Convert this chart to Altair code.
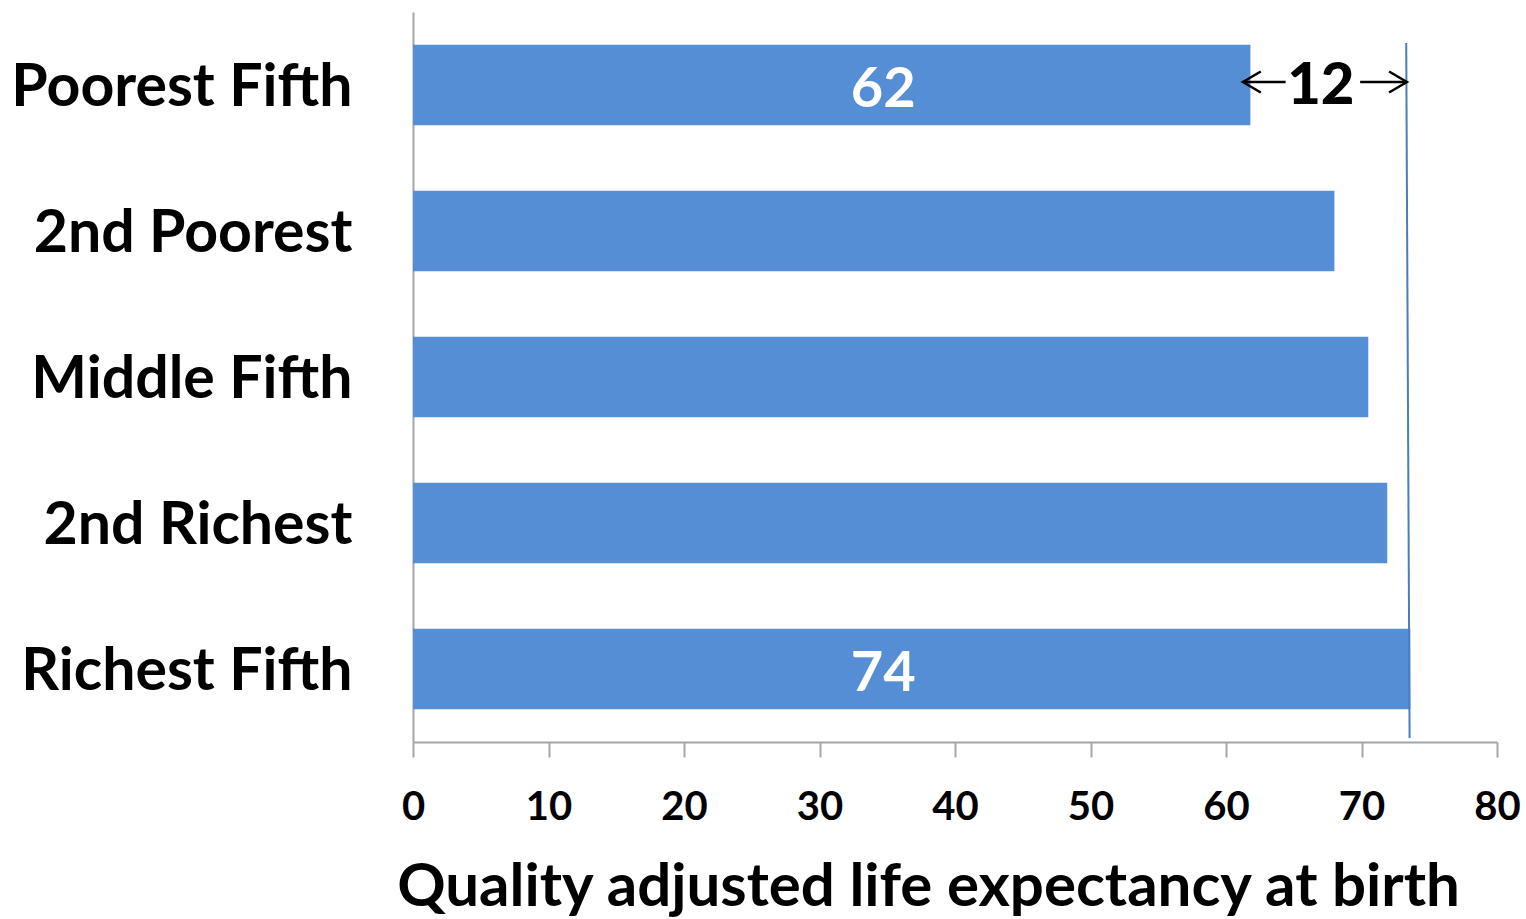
import altair as alt
import pandas as pd

# Income groups (top to bottom) and quality adjusted life expectancy at birth
groups = ["Poorest Fifth", "2nd Poorest", "Middle Fifth", "2nd Richest", "Richest Fifth"]
qale = [61.8, 68.0, 70.5, 71.9, 73.6]

# Bars that carry a value label, and where that label sits along the axis
labelled = ["Poorest Fifth", "Richest Fifth"]
label_x = 34.7

# Gap annotation between poorest and richest fifth
gap_line_top = 73.3
gap_line_bottom = 73.55
arrow_left_tip = 61.25
arrow_left_end = 64.4
arrow_right_start = 69.9
arrow_right_tip = 73.35
gap_text_x = 67.0

x_ticks = [0, 10, 20, 30, 40, 50, 60, 70, 80]

FONT = "Lato"
BLUE = "#558ED5"

bars_df = pd.DataFrame({"group": groups, "qale": qale})
labels_df = bars_df[bars_df["group"].isin(labelled)].assign(lx=label_x)
gap = round(qale[-1]) - round(qale[0])

y_enc = alt.Y(
    "group:N",
    sort=groups,
    title=None,
    scale=alt.Scale(paddingInner=0.45, paddingOuter=0.225),
    axis=alt.Axis(
        ticks=False,
        labelFont=FONT,
        labelFontWeight="bold",
        labelFontSize=59,
        labelColor="black",
        labelPadding=61,
        labelOffset=3,
        domainColor="#A6A6A6",
        domainWidth=2,
        labelLimit=500,
    ),
)

x_scale = alt.Scale(domain=[0, 80], nice=False)

bars = alt.Chart(bars_df).mark_bar(color=BLUE).encode(
    y=y_enc,
    x=alt.X(
        "qale:Q",
        scale=x_scale,
        title="Quality adjusted life expectancy at birth",
        axis=alt.Axis(
            values=x_ticks,
            grid=False,
            tickSize=15,
            tickColor="#A6A6A6",
            tickWidth=2,
            domainColor="#A6A6A6",
            domainWidth=2,
            labelFont=FONT,
            labelFontWeight="bold",
            labelFontSize=40,
            labelColor="black",
            labelPadding=30,
            labelFlush=False,
            titleFont=FONT,
            titleFontWeight="bold",
            titleFontSize=60,
            titleColor="black",
            titlePadding=31,
            titleX=515,
        ),
    ),
)

bar_labels = alt.Chart(labels_df).mark_text(
    font=FONT, fontWeight="bold", fontSize=56, color="white", dy=5
).encode(
    y=alt.Y("group:N", sort=groups),
    x=alt.X("lx:Q", scale=x_scale),
    text=alt.Text("qale:Q", format=".0f"),
)

gap_line_df = pd.DataFrame({"x": [gap_line_top], "x2": [gap_line_bottom]})
gap_line = alt.Chart(gap_line_df).mark_rule(color="#4A7EBB", strokeWidth=2).encode(
    x=alt.X("x:Q", scale=x_scale),
    x2="x2:Q",
    y=alt.value(31),
    y2=alt.value(726),
)

arrows_df = pd.DataFrame({
    "group": [groups[0], groups[0]],
    "x": [arrow_left_tip, arrow_right_start],
    "x2": [arrow_left_end, arrow_right_tip],
})
arrow_shafts = alt.Chart(arrows_df).mark_rule(color="black", strokeWidth=2.5, yOffset=-3).encode(
    y=alt.Y("group:N", sort=groups),
    x=alt.X("x:Q", scale=x_scale),
    x2="x2:Q",
)

left_head = alt.Chart(pd.DataFrame({"group": [groups[0]], "x": [arrow_left_tip]})).mark_point(
    shape="M 1.7 -1 L 0 0 L 1.7 1", size=440, filled=False, color="black",
    strokeWidth=2.5, yOffset=-3, opacity=1,
).encode(y=alt.Y("group:N", sort=groups), x=alt.X("x:Q", scale=x_scale))

right_head = alt.Chart(pd.DataFrame({"group": [groups[0]], "x": [arrow_right_tip]})).mark_point(
    shape="M -1.7 -1 L 0 0 L -1.7 1", size=440, filled=False, color="black",
    strokeWidth=2.5, yOffset=-3, opacity=1,
).encode(y=alt.Y("group:N", sort=groups), x=alt.X("x:Q", scale=x_scale))

gap_text = alt.Chart(pd.DataFrame({"group": [groups[0]], "x": [gap_text_x], "t": [str(gap)]})).mark_text(
    font=FONT, fontWeight=900, fontSize=58, color="black", dy=2
).encode(
    y=alt.Y("group:N", sort=groups),
    x=alt.X("x:Q", scale=x_scale),
    text="t:N",
)

chart = (
    alt.layer(bars, bar_labels, gap_line, arrow_shafts, left_head, right_head, gap_text)
    .properties(
        width=1084,
        height=730,
        background="white",
        autosize=alt.AutoSizeParams(type="none"),
        padding={"left": 413, "top": 12, "right": 29, "bottom": 177},
    )
    .configure_view(strokeWidth=0, stroke=None)
)

chart.save("out.html", embed_options={"renderer": "svg", "actions": False})
